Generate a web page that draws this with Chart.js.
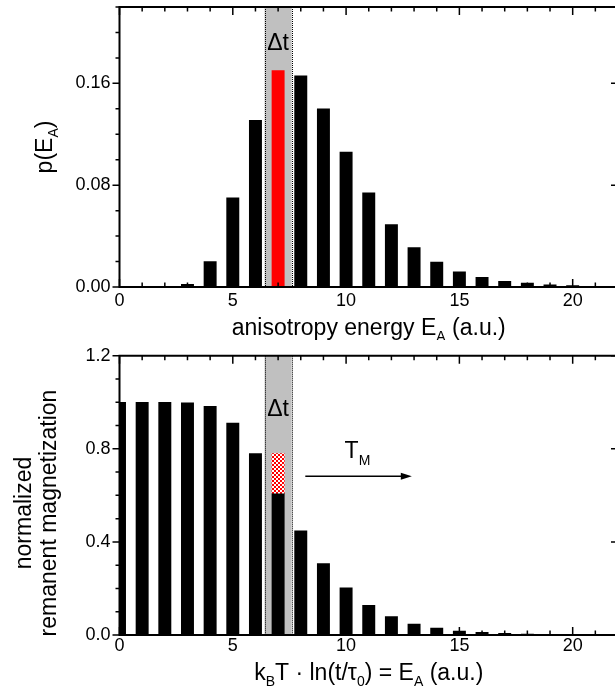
<!DOCTYPE html>
<html><head><meta charset="utf-8">
<script src="https://cdn.jsdelivr.net/npm/chart.js@4/dist/chart.umd.min.js"></script>
<style>
html,body{margin:0;padding:0;background:#fff;overflow:hidden;width:615px;height:698px;}
#w1{position:absolute;left:0;top:0;width:618px;height:340px;}
#w2{position:absolute;left:0;top:340px;width:618px;height:358px;}
</style></head>
<body>
<div id="w1"><canvas id="c1"></canvas></div>
<div id="w2"><canvas id="c2"></canvas></div>
<script>
// ---- data ----
const energyTop = [3,4,5,6,7,8,9,10,11,12,13,14,15,16,17,18,19,20];
const pE = [0.002,0.020,0.070,0.131,0.170,0.166,0.140,0.106,0.074,0.049,0.031,0.0195,0.012,0.0075,0.0045,0.003,0.0018,0.0012];
const highlightE = 7;
const energyBottom = [0,1,2,3,4,5,6,7,8,9,10,11,12,13,14,15,16,17,18,19,20];
const magnetization = [1.0,1.0,1.0,0.998,0.983,0.911,0.780,0.609,0.448,0.307,0.203,0.128,0.079,0.047,0.030,0.017,0.011,0.007,0.004,0.003,0.002];
const lostSegment = [0.609, 0.779]; // at highlightE
const band = [6.4, 7.6];
const xTicks = [0,5,10,15,20];
const yTicksTop = [0, 0.08, 0.16];
const yTicksBottom = [0, 0.4, 0.8, 1.2];
const arrowTM = {x0: 8.2, x1: 12.9, y: 0.682, labelX: 10.2, labelY: 0.76};

const FONT = '"Liberation Sans", Arial, Helvetica, sans-serif';

// checker pattern for lost magnetization
function makePattern(){
  const p = document.createElement('canvas'); p.width = 4; p.height = 4;
  const c = p.getContext('2d');
  c.fillStyle = '#ffffff'; c.fillRect(0,0,4,4);
  c.fillStyle = '#ff0000'; c.fillRect(0,0,2,2); c.fillRect(2,2,2,2);
  return c.createPattern(p,'repeat');
}

function drawRich(ctx, parts, x, y, size, align){
  const subSize = Math.round(size*0.62);
  let w = 0;
  parts.forEach(p=>{ ctx.font = (p.sub?subSize:size)+'px '+FONT; w += ctx.measureText(p.t).width; });
  let cx = align==='center' ? x - w/2 : x;
  parts.forEach(p=>{
    ctx.font = (p.sub?subSize:size)+'px '+FONT;
    ctx.fillText(p.t, cx, p.sub ? y + size*0.28 : y);
    cx += ctx.measureText(p.t).width;
  });
}

const decor = {
  id:'decor',
  beforeDatasetsDraw(chart){
    const {ctx, chartArea:a, scales:{x}} = chart;
    const x0 = x.getPixelForValue(band[0]), x1 = x.getPixelForValue(band[1]);
    ctx.save();
    ctx.fillStyle = '#c0c0c0';
    ctx.fillRect(x0, a.top, x1-x0, a.bottom-a.top);
    ctx.strokeStyle = '#000'; ctx.lineWidth = 1; ctx.setLineDash([1,1]);
    ctx.beginPath();
    ctx.moveTo(Math.round(x0)+0.5, a.top); ctx.lineTo(Math.round(x0)+0.5, a.bottom);
    ctx.moveTo(Math.round(x1)+0.5, a.top); ctx.lineTo(Math.round(x1)+0.5, a.bottom);
    ctx.stroke();
    ctx.restore();
  },
  afterDraw(chart, args, o){
    const {ctx, chartArea:a, scales:{x,y}} = chart;
    ctx.save();
    ctx.strokeStyle = '#000'; ctx.fillStyle = '#000';
    // frame
    ctx.lineWidth = 2;
    ctx.beginPath();
    ctx.moveTo(a.left, a.top); ctx.lineTo(a.right+2, a.top);
    ctx.moveTo(a.left, a.top-1); ctx.lineTo(a.left, a.bottom+1);
    ctx.moveTo(a.left-1, a.bottom); ctx.lineTo(a.right+2, a.bottom);
    ctx.stroke();
    // x ticks: bottom inward (up), top inward (down)
    ctx.lineWidth = 1.5;
    ctx.beginPath();
    for(let v=0; v<=22; v++){
      const px = x.getPixelForValue(v);
      if(px>a.right+1) continue;
      const L = v%5===0 ? 8 : 4.5;
      ctx.moveTo(px, a.bottom); ctx.lineTo(px, a.bottom-L);
      ctx.moveTo(px, a.top); ctx.lineTo(px, a.top+L);
    }
    // y ticks: left outward, right inward
    for(let i=0; ; i++){
      const v = i*o.yMinor;
      if(v > y.max+1e-9) break;
      const py = y.getPixelForValue(v);
      const major = Math.abs(v/o.yMajor - Math.round(v/o.yMajor))<1e-6;
      const L = major ? 7 : 4;
      ctx.moveTo(a.left, py); ctx.lineTo(a.left-L, py);
      ctx.moveTo(a.right, py); ctx.lineTo(a.right-(major?7:3), py);
    }
    ctx.stroke();
    // x title
    ctx.textBaseline = 'alphabetic';
    drawRich(ctx, o.xTitle, (a.left+a.right)/2, o.xTitleY, 23, 'center');
    // y title(s)
    o.yTitles.forEach(t=>{
      ctx.save();
      ctx.translate(t.x, t.cy);
      ctx.rotate(-Math.PI/2);
      drawRich(ctx, t.parts, 0, 0, 23, 'center');
      ctx.restore();
    });
    // delta t
    ctx.font = '23px '+FONT; ctx.textAlign = 'center';
    ctx.fillText('\u0394t', x.getPixelForValue((band[0]+band[1])/2), o.dtY);
    ctx.textAlign = 'left';
    if(o.arrow){
      const ar = arrowTM;
      const px0 = x.getPixelForValue(ar.x0), px1 = x.getPixelForValue(ar.x1), py = y.getPixelForValue(ar.y);
      ctx.lineWidth = 1.3;
      ctx.beginPath(); ctx.moveTo(px0, py); ctx.lineTo(px1-8, py); ctx.stroke();
      ctx.beginPath(); ctx.moveTo(px1, py); ctx.lineTo(px1-11, py-3.5); ctx.lineTo(px1-11, py+3.5); ctx.closePath(); ctx.fill();
      ctx.textBaseline = 'alphabetic';
      drawRich(ctx, [{t:'T'},{t:'M',sub:true}], x.getPixelForValue(ar.labelX)-6, y.getPixelForValue(ar.labelY), 23, 'left');
    }
    ctx.restore();
  }
};

function baseOptions(ymax, yticks, padTop, xH, xPad, decorOpts){
  return {
    responsive:true, maintainAspectRatio:false, animation:false,
    layout:{padding:{top:padTop, right:0, left:0, bottom:0}},
    plugins:{legend:{display:false}, tooltip:{enabled:false}, decor:decorOpts},
    scales:{
      x:{type:'linear', min:0, max:22, offset:false,
         grid:{display:false, drawTicks:false}, border:{display:false},
         afterBuildTicks:s=>{s.ticks = xTicks.map(v=>({value:v}));},
         afterFit:s=>{s.height = xH; s.paddingLeft = 0; s.paddingRight = 0;},
         ticks:{color:'#000', font:{family:FONT, size:18}, padding:xPad, maxRotation:0, autoSkip:false}},
      y:{min:0, max:ymax,
         grid:{display:false, drawTicks:false}, border:{display:false},
         afterBuildTicks:s=>{s.ticks = yticks.map(v=>({value:v}));},
         afterFit:s=>{s.width = 119.5; s.paddingTop = 0; s.paddingBottom = 0;},
         ticks:{color:'#000', font:{family:FONT, size:18}, padding:9,
                callback:(v)=> ymax<1 ? v.toFixed(2) : v.toFixed(1)}}
    }
  };
}

new Chart(document.getElementById('c1'), {
  type:'bar',
  data:{datasets:[{
    data: energyTop.map((e,i)=>({x:e, y:pE[i]})),
    backgroundColor: energyTop.map(e=> e===highlightE ? '#ff0000' : '#000000'),
    barThickness:12.3, borderWidth:0
  }]},
  options: baseOptions(0.22, yTicksTop, 7, 53, 3, {
    yMinor:0.02, yMajor:0.08,
    xTitle:[{t:'anisotropy energy E'},{t:'A',sub:true},{t:' (a.u.)'}], xTitleY:335,
    yTitles:[{x:52, cy:147, parts:[{t:'p(E'},{t:'A',sub:true},{t:')'}]}],
    dtY:50, arrow:false
  }),
  plugins:[decor]
});

new Chart(document.getElementById('c2'), {
  type:'bar',
  data:{datasets:[
    {data: [{x:highlightE, y:lostSegment}], backgroundColor: makePattern(),
     borderColor:'#000', borderWidth:0, barThickness:12.3, grouped:false, order:0},
    {data: energyBottom.map((e,i)=>({x:e, y:magnetization[i]})), backgroundColor:'#000000',
     barThickness:12.3, borderWidth:0, grouped:false, order:1}
  ]},
  options: baseOptions(1.2, yTicksBottom, 15.7, 63, 0, {
    yMinor:0.1, yMajor:0.4,
    xTitle:[{t:'k'},{t:'B',sub:true},{t:'T \u00B7 ln(t/\u03C4'},{t:'0',sub:true},{t:') = E'},{t:'A',sub:true},{t:' (a.u.)'}], xTitleY:340,
    yTitles:[{x:31, cy:173, parts:[{t:'normalized'}]},{x:56, cy:173, parts:[{t:'remanent magnetization'}]}],
    dtY:76, arrow:true
  }),
  plugins:[decor]
});
</script>
</body></html>
